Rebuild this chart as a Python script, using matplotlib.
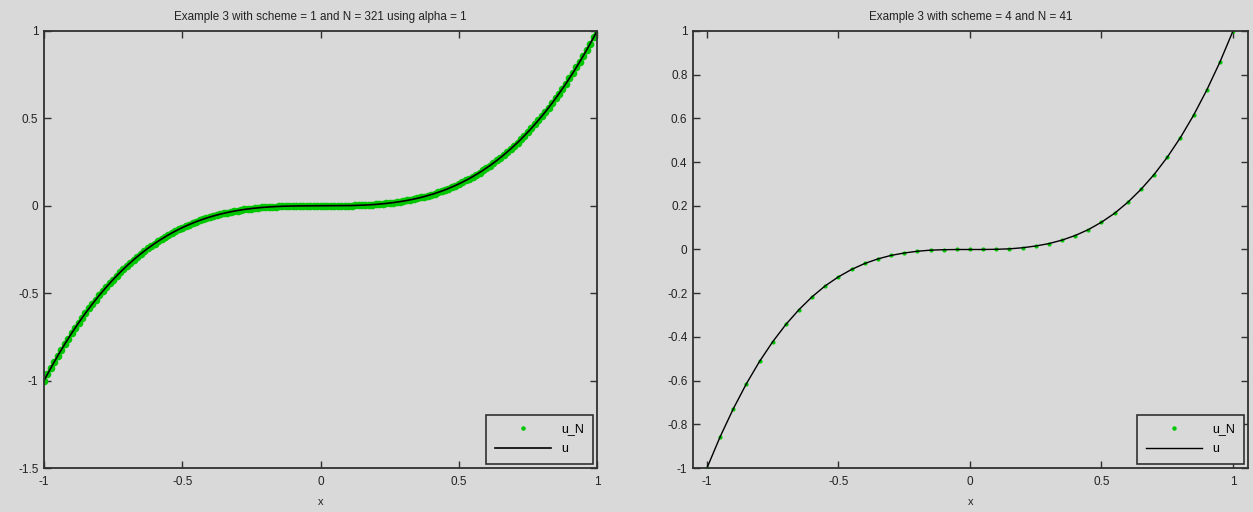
import matplotlib
matplotlib.use("Agg")
import matplotlib.pyplot as plt
import numpy as np
from matplotlib.ticker import FuncFormatter

plt.rcParams["font.family"] = ["Liberation Sans", "DejaVu Sans"]

# left panel: scheme 1, fine grid
x_fine = np.linspace(-1, 1, 161)
u_N_fine = [
    -1.0000, -0.9630, -0.9269, -0.8917, -0.8574, -0.8240, -0.7915, -0.7598, -0.7290, -0.6990,
    -0.6699, -0.6416, -0.6141, -0.5874, -0.5615, -0.5364, -0.5120, -0.4884, -0.4655, -0.4433,
    -0.4219, -0.4011, -0.3811, -0.3617, -0.3430, -0.3250, -0.3075, -0.2908, -0.2746, -0.2591,
    -0.2441, -0.2298, -0.2160, -0.2028, -0.1901, -0.1780, -0.1664, -0.1553, -0.1447, -0.1346,
    -0.1250, -0.1159, -0.1072, -0.0989, -0.0911, -0.0837, -0.0768, -0.0702, -0.0640, -0.0582,
    -0.0527, -0.0476, -0.0429, -0.0384, -0.0343, -0.0305, -0.0270, -0.0238, -0.0208, -0.0181,
    -0.0156, -0.0134, -0.0114, -0.0096, -0.0080, -0.0066, -0.0054, -0.0043, -0.0034, -0.0026,
    -0.0020, -0.0014, -0.0010, -0.0007, -0.0004, -0.0002, -0.0001, -0.0001, 0.0000, 0.0000,
    0.0000,
    0.0000, 0.0000, 0.0001, 0.0001, 0.0002, 0.0004, 0.0007, 0.0010, 0.0014, 0.0020,
    0.0026, 0.0034, 0.0043, 0.0054, 0.0066, 0.0080, 0.0096, 0.0114, 0.0134, 0.0156,
    0.0181, 0.0208, 0.0238, 0.0270, 0.0305, 0.0343, 0.0384, 0.0429, 0.0476, 0.0527,
    0.0582, 0.0640, 0.0702, 0.0768, 0.0837, 0.0911, 0.0989, 0.1072, 0.1159, 0.1250,
    0.1346, 0.1447, 0.1553, 0.1664, 0.1780, 0.1901, 0.2028, 0.2160, 0.2298, 0.2441,
    0.2591, 0.2746, 0.2908, 0.3075, 0.3250, 0.3430, 0.3617, 0.3811, 0.4011, 0.4219,
    0.4433, 0.4655, 0.4884, 0.5120, 0.5364, 0.5615, 0.5874, 0.6141, 0.6416, 0.6699,
    0.6990, 0.7290, 0.7598, 0.7915, 0.8240, 0.8574, 0.8917, 0.9269, 0.9630, 1.0000,
]

# right panel: scheme 4, N = 41
x_coarse = np.linspace(-1, 1, 41)
u_N_coarse = [
    -1.000, -0.857, -0.729, -0.614, -0.512, -0.422, -0.343, -0.275, -0.216, -0.166,
    -0.125, -0.091, -0.064, -0.043, -0.027, -0.016, -0.008, -0.003, -0.001, 0.000,
    0.000,
    0.000, 0.001, 0.003, 0.008, 0.016, 0.027, 0.043, 0.064, 0.091, 0.125,
    0.166, 0.216, 0.275, 0.343, 0.422, 0.512, 0.614, 0.729, 0.857, 1.000,
]

titles = [
    "Example 3 with scheme = 1 and N = 321 using alpha = 1",
    "Example 3 with scheme = 4 and N = 41",
]

BG = "#d9d9d9"
GREEN = "#00c800"
EDGE = "#303030"

fig = plt.figure(figsize=(12.53, 5.12), dpi=100, facecolor=BG)
ax1 = fig.add_axes([0.0351, 0.0859, 0.4414, 0.8536], facecolor=BG)
ax2 = fig.add_axes([0.5531, 0.0859, 0.4429, 0.8536], facecolor=BG)

ax1.plot(x_fine, u_N_fine, ".", color=GREEN, markersize=9, label="u_N")
ax1.plot(x_fine, u_N_fine, "-", color="black", linewidth=1.2, label="u")
ax1.set_xlim(-1, 1)
ax1.set_ylim(-1.5, 1)
ax1.set_yticks([-1.5, -1, -0.5, 0, 0.5, 1])

ax2.plot(x_coarse, u_N_coarse, ".", color=GREEN, markersize=4, label="u_N")
ax2.plot(x_coarse, u_N_coarse, "-", color="black", linewidth=1.0, label="u")
ax2.set_xlim(-1.053, 1.057)
ax2.set_ylim(-1, 1)
ax2.set_yticks(np.round(np.arange(-1, 1.01, 0.2), 1))

fmt = FuncFormatter(lambda v, p: "%g" % (round(v, 6) + 0.0))
for ax, title, mscale in zip([ax1, ax2], titles, [0.5, 1.1]):
    ax.set_xticks([-1, -0.5, 0, 0.5, 1])
    ax.xaxis.set_major_formatter(fmt)
    ax.yaxis.set_major_formatter(fmt)
    ax.tick_params(direction="in", top=True, right=True, length=5,
                   width=1, color=EDGE, labelsize=8.5, labelcolor="#222222")
    ax.tick_params(axis="x", pad=6)
    ax.tick_params(axis="y", pad=4)
    for s in ax.spines.values():
        s.set_color(EDGE)
        s.set_linewidth(1.3)
    ax.set_title(title, fontsize=8.4, color="#222222", pad=8)
    ax.set_xlabel("x", fontsize=8, color="#222222", labelpad=6)
    leg = ax.legend(loc="lower right", fontsize=9, frameon=True, fancybox=False,
                    handlelength=4.5, borderaxespad=0.35, borderpad=0.7,
                    labelspacing=0.6, markerscale=mscale)
    leg.get_frame().set_edgecolor(EDGE)
    leg.get_frame().set_facecolor(BG)
    leg.get_frame().set_linewidth(1.2)
    leg.get_frame().set_alpha(1)

fig.savefig("out.png", dpi=100, facecolor=BG)
